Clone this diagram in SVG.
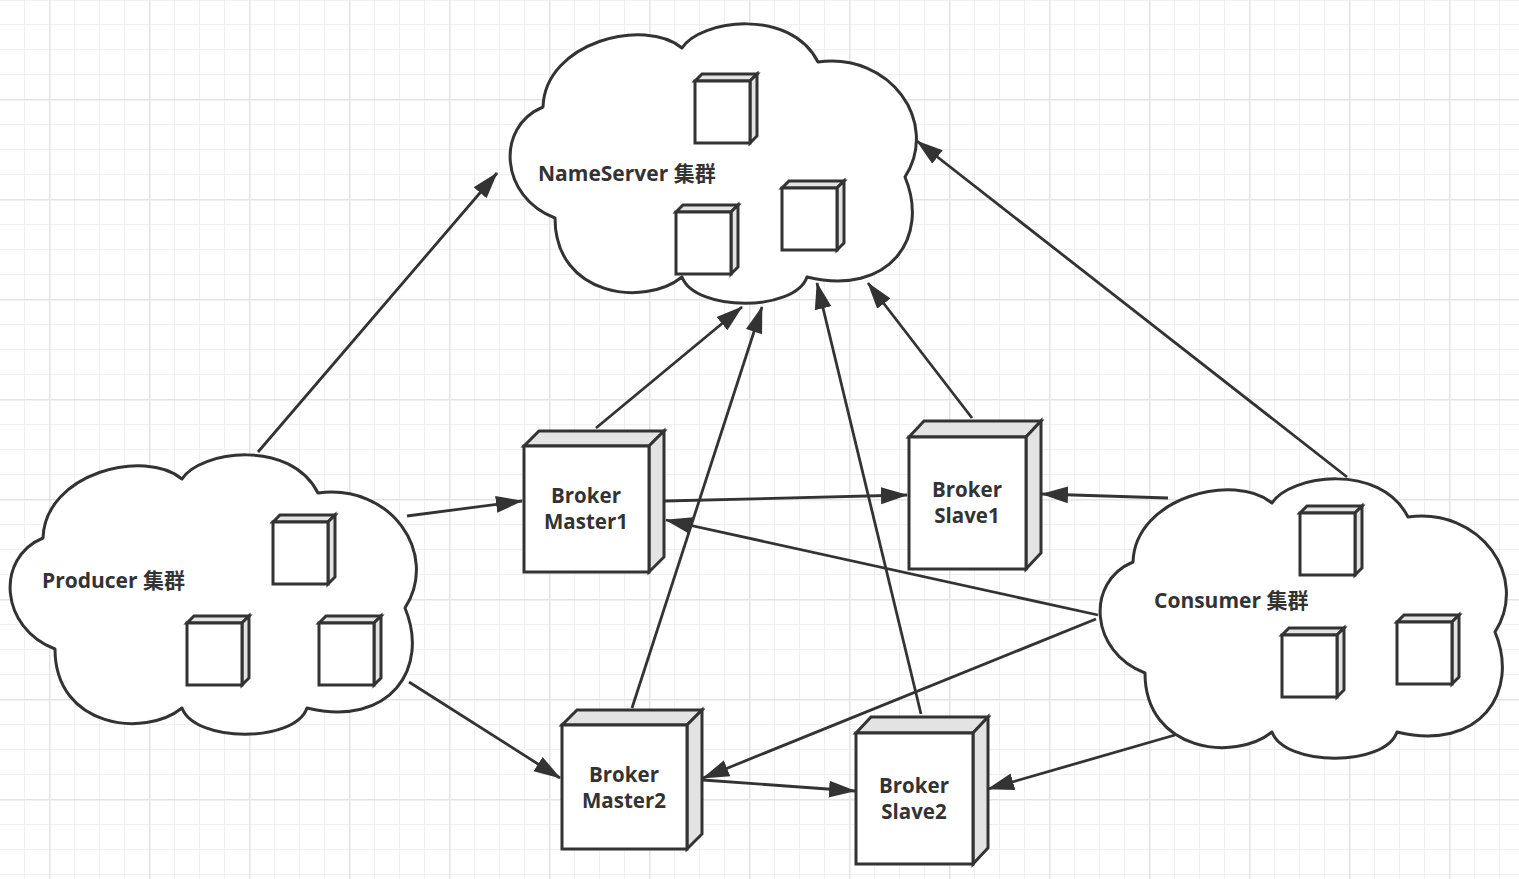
<svg xmlns="http://www.w3.org/2000/svg" width="1519" height="879" viewBox="0 0 1519 879">
<style>
.cloud{fill:#fff;stroke:#333;stroke-width:3;stroke-linejoin:round}
.face{fill:#fff;stroke:#333;stroke-width:3;stroke-linejoin:miter}
.shade{fill:#e3e3e3;stroke:#333;stroke-width:3;stroke-linejoin:miter}
.lbl{font-family:"Open Sans","Noto Sans CJK SC",sans-serif;font-weight:700;font-size:21px;fill:#333}
.blbl{font-family:"Open Sans","Noto Sans CJK SC",sans-serif;font-weight:700;font-size:20.5px;fill:#333;text-anchor:middle}
.edge{fill:none;stroke:#333;stroke-width:2.8}
</style>
<defs>
<pattern id="grid" patternUnits="userSpaceOnUse" x="49" y="99" width="100" height="100">
<rect x="0" y="0" width="100" height="100" fill="#fff"/>
<rect x="25" y="0" width="1" height="100" fill="#f0f0f0"/>
<rect x="50" y="0" width="1" height="100" fill="#f0f0f0"/>
<rect x="75" y="0" width="1" height="100" fill="#f0f0f0"/>
<rect x="0" y="25" width="100" height="1" fill="#f0f0f0"/>
<rect x="0" y="50" width="100" height="1" fill="#f0f0f0"/>
<rect x="0" y="75" width="100" height="1" fill="#f0f0f0"/>
<rect x="0" y="0" width="1.5" height="100" fill="#e4e4e4"/>
<rect x="0" y="0" width="100" height="1.5" fill="#e4e4e4"/>
</pattern>
<path id="cloudShape" d="M 38,85 C 40,20 140,-5 177,26 C 195,-2 285,-15 313,40 C 385,30 435,100 400,155 C 425,215 385,275 302,255 C 290,290 190,290 177,255 C 140,285 50,275 50,196 C -5,175 -10,105 38,85 Z"/>
<g id="cube">
<polygon class="shade" points="0,7 7,0 62,0 55,7"/>
<polygon class="shade" points="55,7 62,0 62,62 55,69"/>
<rect class="face" x="0" y="7" width="55" height="62"/>
</g>
<marker id="arr" markerUnits="userSpaceOnUse" markerWidth="28" markerHeight="20" viewBox="0 0 28 20" refX="26" refY="10" orient="auto">
<path d="M0,1.5 L27,10 L0,18.5 Z" fill="#333"/>
</marker>
</defs>
<rect width="1519" height="879" fill="url(#grid)"/>

<g id="connectors">
<path class="edge" marker-end="url(#arr)" d="M258,452 L497,173"/>
<path class="edge" marker-end="url(#arr)" d="M407,516 L522,501"/>
<path class="edge" marker-end="url(#arr)" d="M409,682 L560,778"/>
<path class="edge" marker-end="url(#arr)" d="M596,428 L742,307"/>
<path class="edge" marker-end="url(#arr)" d="M665,501 L907,495"/>
<path class="edge" marker-end="url(#arr)" d="M972,418 L868,283"/>
<path class="edge" marker-end="url(#arr)" d="M632,708 L762,307"/>
<path class="edge" marker-end="url(#arr)" d="M921,714 L817,283"/>
<path class="edge" marker-end="url(#arr)" d="M1347,477 L917,141"/>
<path class="edge" marker-end="url(#arr)" d="M1168,498 L1042,494"/>
<path class="edge" marker-end="url(#arr)" d="M1098,615 L666,520"/>
<path class="edge" marker-end="url(#arr)" d="M1096,619 L703,778"/>
<path class="edge" marker-end="url(#arr)" d="M1175,735 L988,789"/>
<path class="edge" marker-end="url(#arr)" d="M703,780 L855,791"/>
</g>

<g id="nameserver">
<use href="#cloudShape" class="cloud" transform="translate(505,22)"/>
<use href="#cube" x="695" y="74"/>
<use href="#cube" x="676" y="205"/>
<use href="#cube" x="782" y="181"/>
<text class="lbl" x="538" y="181">NameServer 集群</text>
</g>

<g id="producer">
<use href="#cloudShape" class="cloud" transform="translate(5,453)"/>
<use href="#cube" x="273" y="515"/>
<use href="#cube" x="187" y="616"/>
<use href="#cube" x="319" y="616"/>
<text class="lbl" x="42" y="588">Producer 集群</text>
</g>

<g id="consumer">
<use href="#cloudShape" class="cloud" transform="translate(1095,477)"/>
<use href="#cube" x="1300" y="506"/>
<use href="#cube" x="1282" y="628"/>
<use href="#cube" x="1397" y="615"/>
<text class="lbl" x="1154" y="608">Consumer 集群</text>
</g>

<g id="master1">
<polygon class="shade" points="524,446 539,431 664,431 649,446"/>
<polygon class="shade" points="649,446 664,431 664,557 649,572"/>
<rect class="face" x="524" y="446" width="125" height="126"/>
<text class="blbl" x="586" y="503">Broker</text>
<text class="blbl" x="586" y="529">Master1</text>
</g>

<g id="slave1">
<polygon class="shade" points="909,437 924,421 1041,421 1026,437"/>
<polygon class="shade" points="1026,437 1041,421 1041,553 1026,569"/>
<rect class="face" x="909" y="437" width="117" height="132"/>
<text class="blbl" x="967" y="497">Broker</text>
<text class="blbl" x="967" y="523">Slave1</text>
</g>

<g id="master2">
<polygon class="shade" points="562,725 577,710 702,710 687,725"/>
<polygon class="shade" points="687,725 702,710 702,834 687,849"/>
<rect class="face" x="562" y="725" width="125" height="124"/>
<text class="blbl" x="624" y="782">Broker</text>
<text class="blbl" x="624" y="808">Master2</text>
</g>

<g id="slave2">
<polygon class="shade" points="856,733 871,717 988,717 973,733"/>
<polygon class="shade" points="973,733 988,717 988,848 973,864"/>
<rect class="face" x="856" y="733" width="117" height="131"/>
<text class="blbl" x="914" y="793">Broker</text>
<text class="blbl" x="914" y="819">Slave2</text>
</g>
</svg>
